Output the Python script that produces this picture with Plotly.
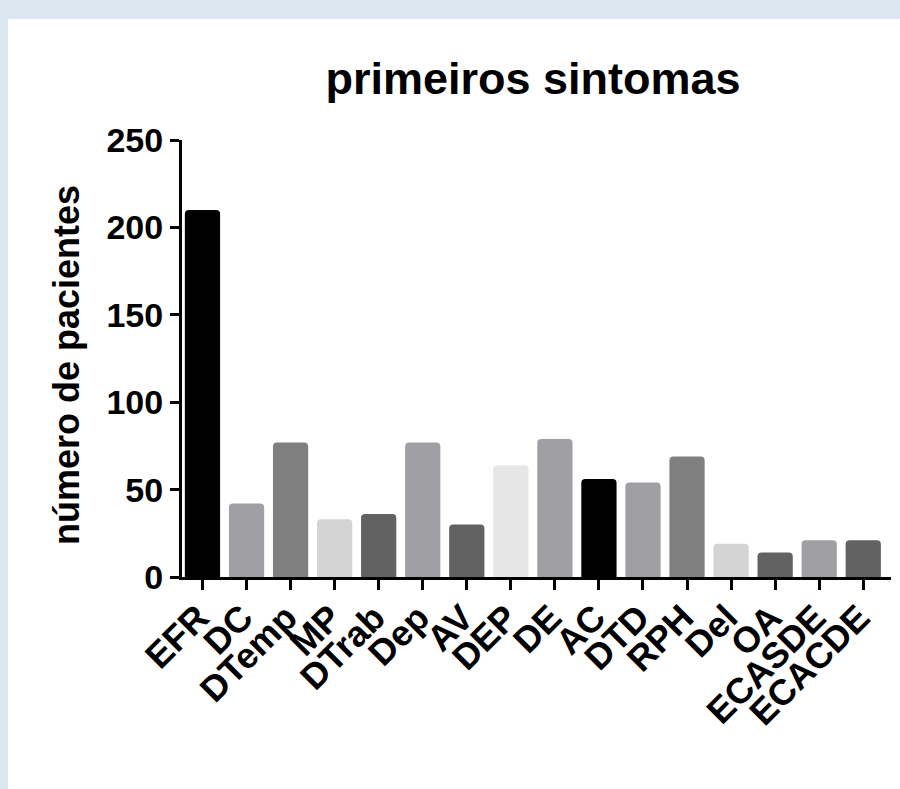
import plotly.graph_objects as go

categories = ["EFR", "DC", "DTemp", "MP", "DTrab", "Dep", "AV", "DEP", "DE", "AC",
              "DTD", "RPH", "Del", "OA", "ECASDE", "ECACDE"]
values = [210, 42, 77, 33, 36, 77, 30, 64, 79, 56, 54, 69, 19, 14, 21, 21]
bar_colors = ["#000000", "#a0a0a4", "#808080", "#d4d4d4", "#626262", "#a0a0a4",
              "#626262", "#e6e6e6", "#a0a0a4", "#000000", "#a0a0a4", "#808080",
              "#d4d4d4", "#626262", "#a0a0a4", "#626262"]
y_ticks = [0, 50, 100, 150, 200, 250]

W, H = 900, 789
L, R, T, B = 182, 9, 140, 212
pw, ph = W - L - R, H - T - B

fig = go.Figure(go.Bar(
    x=list(range(len(categories))), y=values,
    marker=dict(color=bar_colors, line=dict(width=0)),
    width=0.8,
))

font_fam = "Liberation Sans, Arial, sans-serif"

fig.update_layout(
    width=W, height=H,
    margin=dict(l=L, r=R, t=T, b=B, autoexpand=False),
    paper_bgcolor="#dce6f1",
    plot_bgcolor="rgba(0,0,0,0)",
    barcornerradius=4,
    showlegend=False,
    font=dict(family=font_fam, color="black", weight="bold"),
    title=dict(text="primeiros sintomas", x=533 / W, xanchor="center",
               xref="container", y=1 - 78 / H, yanchor="middle", yref="container",
               font=dict(size=45, family=font_fam, weight="bold", color="black")),
    xaxis=dict(
        range=[-0.465, 15.63],
        tickmode="array", tickvals=list(range(len(categories))), ticktext=categories,
        tickangle=-45, showline=True, linewidth=3, linecolor="black",
        ticks="outside", ticklen=10, tickwidth=3, tickcolor="black",
        ticklabelshift=-4, ticklabelstandoff=-8,
        showgrid=False, zeroline=False,
        tickfont=dict(size=36, family=font_fam, weight="bold", color="black"),
    ),
    yaxis=dict(
        range=[0, 250], tickmode="array", tickvals=y_ticks,
        showline=True, linewidth=3, linecolor="black",
        ticks="outside", ticklen=9, tickwidth=3, tickcolor="black",
        showgrid=False, zeroline=False,
        tickfont=dict(size=34, family=font_fam, weight="bold", color="black"),
    ),
    annotations=[dict(
        text="número de pacientes", textangle=-90, showarrow=False,
        xref="paper", yref="paper", x=(66 - L) / pw, y=(H - B - 365) / ph,
        xanchor="center", yanchor="middle",
        font=dict(size=36, family=font_fam, weight="bold", color="black"),
    )],
    shapes=[dict(
        type="rect", xref="paper", yref="paper", layer="below",
        x0=(8 - L) / pw, x1=(W - L) / pw + 0.01,
        y0=(H - B - H) / ph - 0.01, y1=(H - B - 19) / ph,
        fillcolor="white", line=dict(width=0),
    )],
)

fig.write_html(
    "out.html",
    config={"displayModeBar": False},
    post_script="document.body.style.margin='0';document.body.style.background='#dce6f1';",
)
